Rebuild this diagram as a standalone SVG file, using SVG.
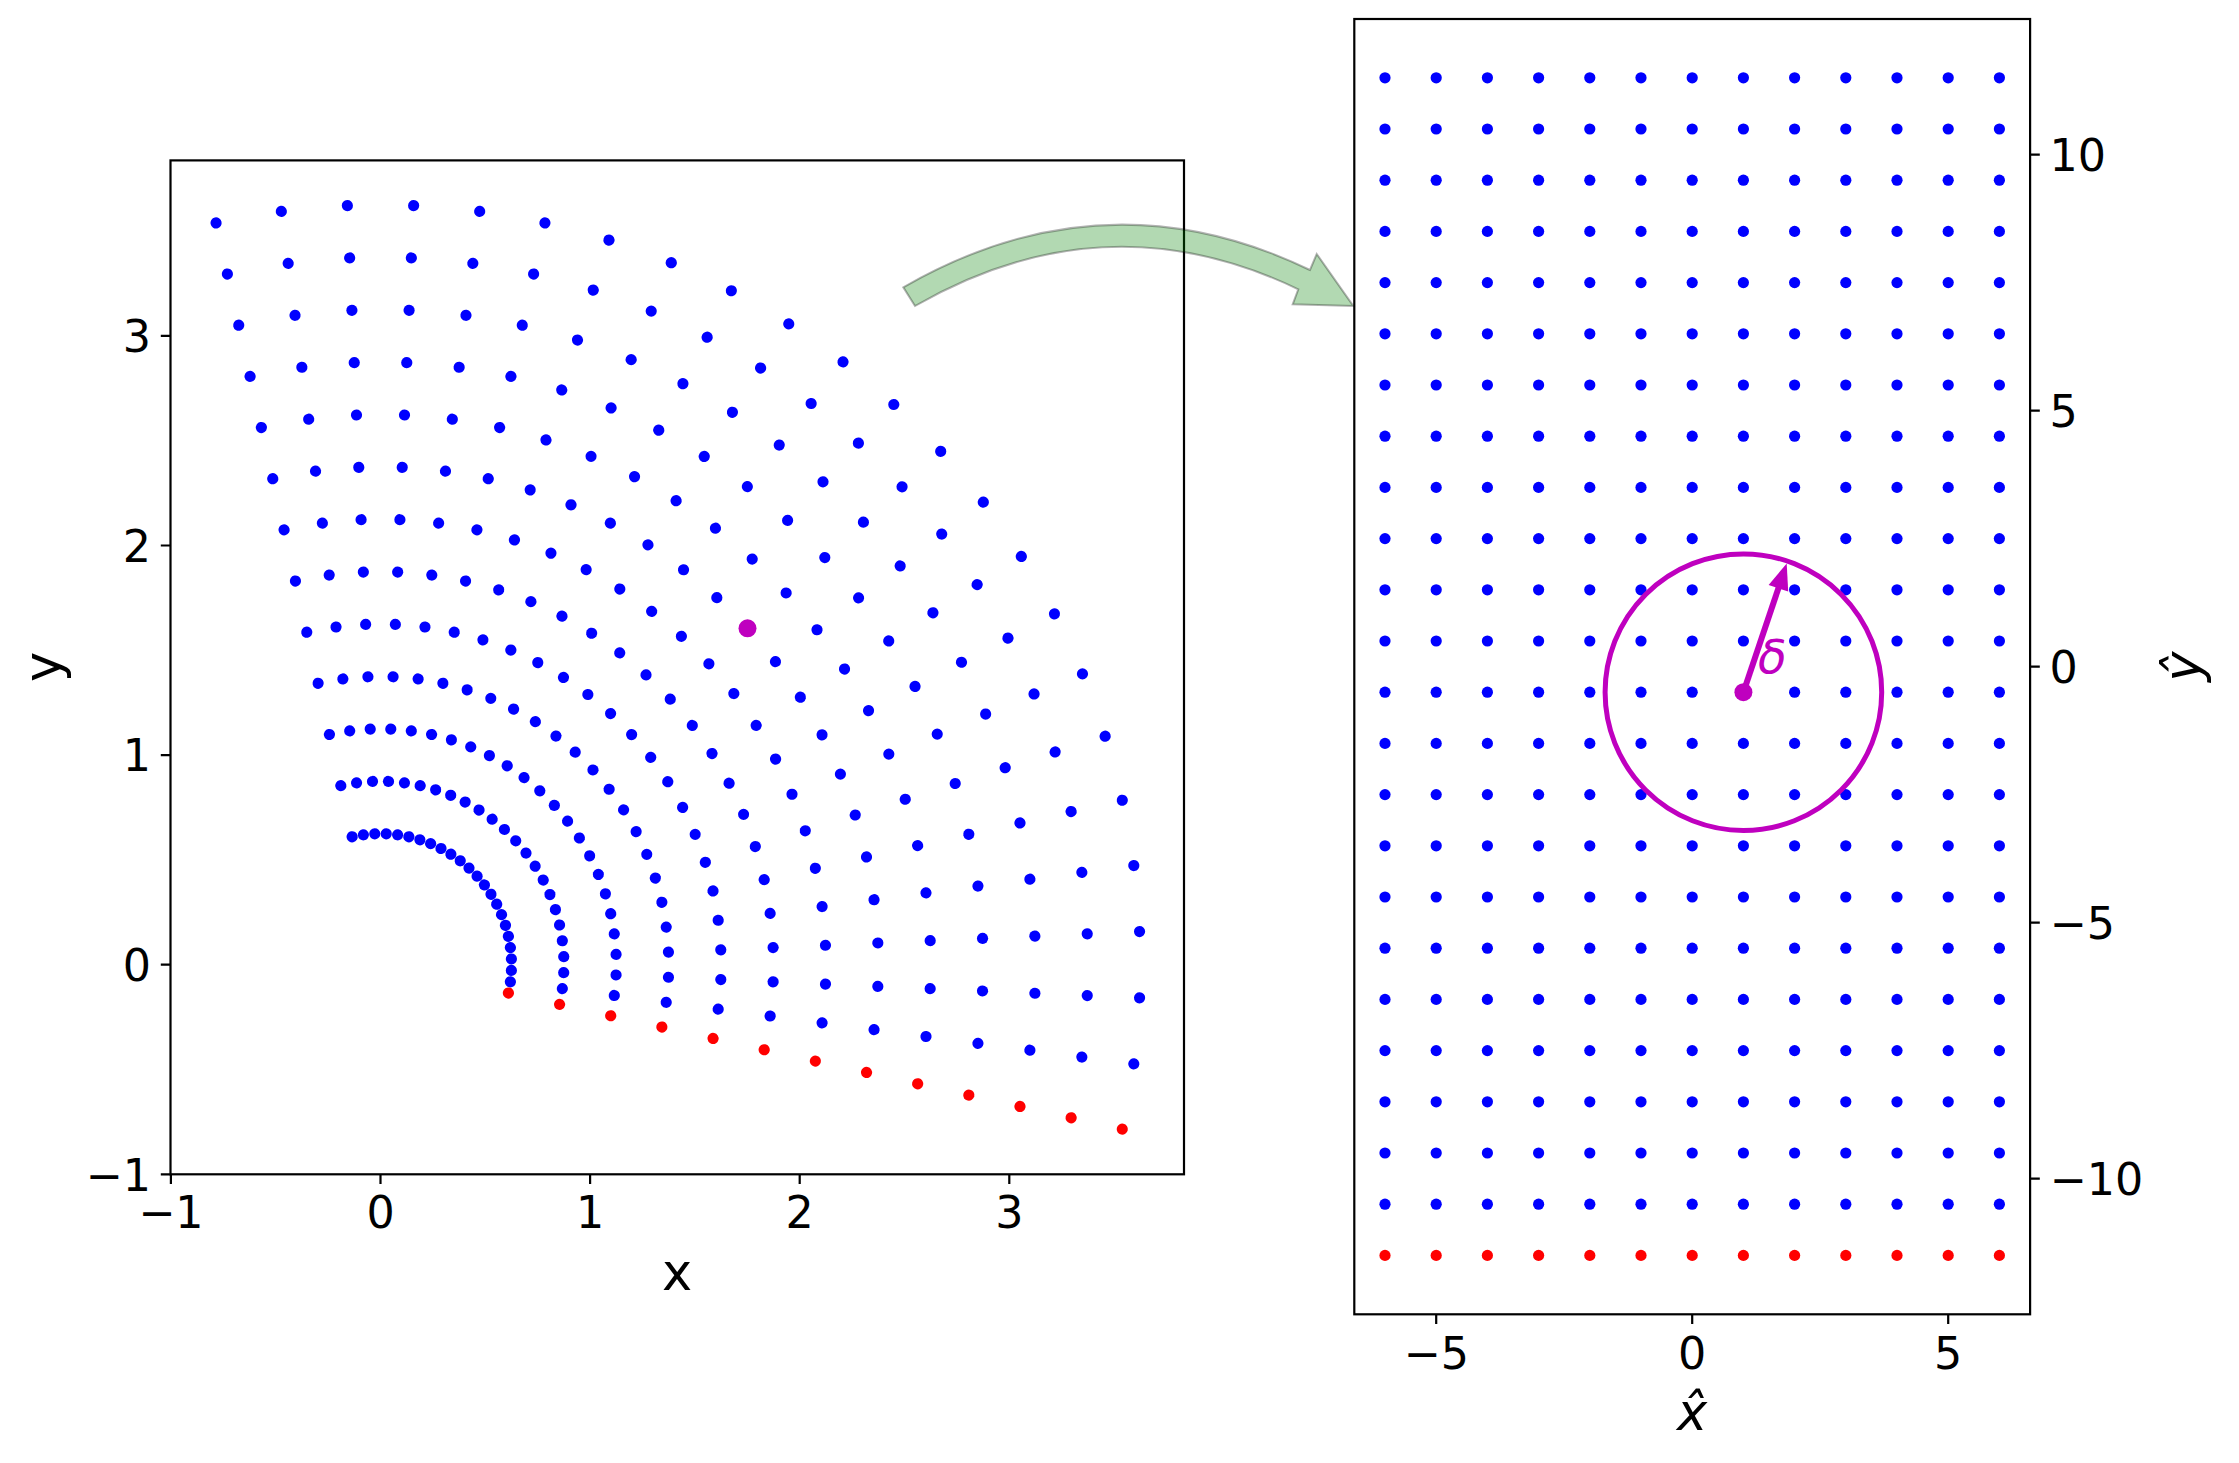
<svg xmlns="http://www.w3.org/2000/svg" width="2239" height="1463" viewBox="0 0 2239 1463">
<style>
.tk{font-family:"DejaVu Sans","Liberation Sans",sans-serif;font-size:44.4px;fill:#000}
.lb{font-family:"DejaVu Sans","Liberation Sans",sans-serif;font-size:51px;fill:#000}
.it{font-style:italic}
.sp{fill:none;stroke:#000;stroke-width:2.2}
.tick{fill:none;stroke:#000;stroke-width:2.2}
.b{fill:#0000ff}
.r{fill:#ff0000}
.m{fill:#bf00bf}
</style>
<defs>
<g id="spoke">
<circle cx="131.0" cy="0" r="5.6"/><circle cx="183.4" cy="0" r="5.6"/><circle cx="235.8" cy="0" r="5.6"/><circle cx="288.2" cy="0" r="5.6"/><circle cx="340.6" cy="0" r="5.6"/><circle cx="393.0" cy="0" r="5.6"/><circle cx="445.4" cy="0" r="5.6"/><circle cx="497.8" cy="0" r="5.6"/><circle cx="550.2" cy="0" r="5.6"/><circle cx="602.6" cy="0" r="5.6"/><circle cx="655.0" cy="0" r="5.6"/><circle cx="707.4" cy="0" r="5.6"/><circle cx="759.8" cy="0" r="5.6"/>
</g>
<g id="row">
<circle cx="1385.0" cy="0" r="5.6"/><circle cx="1436.2" cy="0" r="5.6"/><circle cx="1487.4" cy="0" r="5.6"/><circle cx="1538.6" cy="0" r="5.6"/><circle cx="1589.8" cy="0" r="5.6"/><circle cx="1641.0" cy="0" r="5.6"/><circle cx="1692.2" cy="0" r="5.6"/><circle cx="1743.4" cy="0" r="5.6"/><circle cx="1794.6" cy="0" r="5.6"/><circle cx="1845.8" cy="0" r="5.6"/><circle cx="1897.0" cy="0" r="5.6"/><circle cx="1948.2" cy="0" r="5.6"/><circle cx="1999.4" cy="0" r="5.6"/>
</g>
</defs>
<rect x="0" y="0" width="2239" height="1463" fill="#ffffff"/>

<g id="left-axes">
<rect class="sp" x="170.5" y="160.4" width="1013.5" height="1013.9"/>
<g id="left-points" transform="translate(380.5,964.7)">
<g class="b">
<use href="#spoke" transform="rotate(7.5)"/>
<use href="#spoke" transform="rotate(2.5)"/>
<use href="#spoke" transform="rotate(-2.5)"/>
<use href="#spoke" transform="rotate(-7.5)"/>
<use href="#spoke" transform="rotate(-12.5)"/>
<use href="#spoke" transform="rotate(-17.5)"/>
<use href="#spoke" transform="rotate(-22.5)"/>
<use href="#spoke" transform="rotate(-27.5)"/>
<use href="#spoke" transform="rotate(-32.5)"/>
<use href="#spoke" transform="rotate(-37.5)"/>
<use href="#spoke" transform="rotate(-42.5)"/>
<use href="#spoke" transform="rotate(-47.5)"/>
<use href="#spoke" transform="rotate(-52.5)"/>
<use href="#spoke" transform="rotate(-57.5)"/>
<use href="#spoke" transform="rotate(-62.5)"/>
<use href="#spoke" transform="rotate(-67.5)"/>
<use href="#spoke" transform="rotate(-72.5)"/>
<use href="#spoke" transform="rotate(-77.5)"/>
<use href="#spoke" transform="rotate(-82.5)"/>
<use href="#spoke" transform="rotate(-87.5)"/>
<use href="#spoke" transform="rotate(-92.5)"/>
<use href="#spoke" transform="rotate(-97.5)"/>
<use href="#spoke" transform="rotate(-102.5)"/>
</g>
<g class="r"><use href="#spoke" transform="rotate(12.5)"/></g>
</g>
<circle id="left-marker" class="m" cx="747.5" cy="628.3" r="9"/>
<path class="tick" d="M170.9 1174.3v9.7M380.5 1174.3v9.7M590.1 1174.3v9.7M799.7 1174.3v9.7M1009.3 1174.3v9.7M170.5 1174.3h-9.7M170.5 964.7h-9.7M170.5 755.1h-9.7M170.5 545.5h-9.7M170.5 335.9h-9.7"/>
<g class="tk" text-anchor="middle">
<text x="170.9" y="1228">−1</text>
<text x="380.5" y="1228">0</text>
<text x="590.1" y="1228">1</text>
<text x="799.7" y="1228">2</text>
<text x="1009.3" y="1228">3</text>
</g>
<g class="tk" text-anchor="end">
<text x="151" y="1190.5">−1</text>
<text x="151" y="980.9">0</text>
<text x="151" y="771.3">1</text>
<text x="151" y="561.7">2</text>
<text x="151" y="352.1">3</text>
</g>
<text class="lb" x="677" y="1290" text-anchor="middle">x</text>
<text class="lb" transform="translate(60,667) rotate(-90)" text-anchor="middle">y</text>
</g>

<g id="right-axes">
<rect class="sp" x="1354.3" y="19" width="675.8" height="1295.3"/>
<g id="right-points">
<g class="b">
<use href="#row" y="77.8"/><use href="#row" y="129.0"/><use href="#row" y="180.2"/><use href="#row" y="231.4"/><use href="#row" y="282.6"/><use href="#row" y="333.8"/><use href="#row" y="385.0"/><use href="#row" y="436.2"/><use href="#row" y="487.4"/><use href="#row" y="538.6"/><use href="#row" y="589.8"/><use href="#row" y="641.0"/><use href="#row" y="692.2"/><use href="#row" y="743.4"/><use href="#row" y="794.6"/><use href="#row" y="845.8"/><use href="#row" y="897.0"/><use href="#row" y="948.2"/><use href="#row" y="999.4"/><use href="#row" y="1050.6"/><use href="#row" y="1101.8"/><use href="#row" y="1153.0"/><use href="#row" y="1204.2"/>
</g>
<g class="r"><use href="#row" y="1255.4"/></g>
</g>
<g id="delta-circle">
<circle cx="1743.4" cy="692.2" r="138.3" fill="none" stroke="#bf00bf" stroke-width="5"/>
<line x1="1743.4" y1="692.2" x2="1779" y2="586.5" stroke="#bf00bf" stroke-width="6"/>
<polygon class="m" points="1786.7,563.5 1788.2,591.6 1768.6,585"/>
<circle class="m" cx="1743.4" cy="692.2" r="9"/>
<text class="it" x="1758" y="673" font-family="DejaVu Sans, sans-serif" font-size="47" fill="#bf00bf">δ</text>
</g>
<path class="tick" d="M1436.2 1314.3v9.7M1692.2 1314.3v9.7M1948.2 1314.3v9.7M2030.1 154.6h9.7M2030.1 410.6h9.7M2030.1 666.6h9.7M2030.1 922.6h9.7M2030.1 1178.6h9.7"/>
<g class="tk" text-anchor="middle">
<text x="1436.2" y="1369">−5</text>
<text x="1692.2" y="1369">0</text>
<text x="1948.2" y="1369">5</text>
</g>
<g class="tk">
<text x="2049.5" y="170.8">10</text>
<text x="2049.5" y="426.8">5</text>
<text x="2049.5" y="682.8">0</text>
<text x="2049.5" y="938.8">−5</text>
<text x="2049.5" y="1194.8">−10</text>
</g>
<text class="lb it" x="1692" y="1430" text-anchor="middle">x̂</text>
<text class="lb it" transform="translate(2200,666.6) rotate(-90)" text-anchor="middle">ŷ</text>
</g>

<g id="connectors">
<path d="M903.3,287.3 Q1104.8,171.3 1310,270 L1316.7,254 L1353.3,306 L1292.7,304.3 L1298.3,289.3 Q1105.3,196.5 915,306 Z" fill="#008000" fill-opacity="0.3" stroke="#000" stroke-opacity="0.3" stroke-width="2"/>
</g>
</svg>
